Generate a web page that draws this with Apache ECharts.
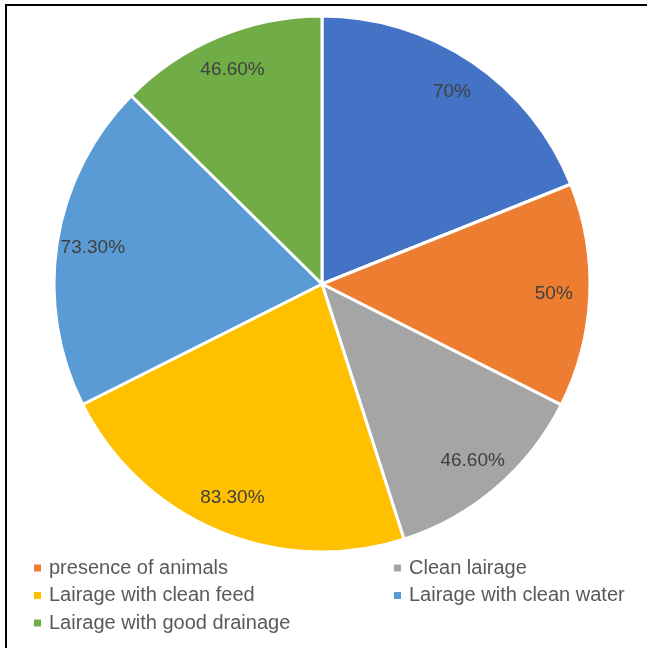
<!DOCTYPE html>
<html>
<head>
<meta charset="utf-8">
<script src="https://cdn.jsdelivr.net/npm/echarts@6/dist/echarts.min.js"></script>
<style>html,body{margin:0;padding:0;background:#fff}#c{width:647px;height:648px}</style>
</head>
<body>
<div id="c"></div>
<script>
const categories = ["Lairage available", "presence of animals", "Clean lairage", "Lairage with clean feed", "Lairage with clean water", "Lairage with good drainage"];
const values = [70, 50, 46.6, 83.3, 73.3, 46.6];
const valueLabels = ["70%", "50%", "46.60%", "83.30%", "73.30%", "46.60%"];
const colors = ["#4472C4", "#ED7D31", "#A5A5A5", "#FFC000", "#5B9BD5", "#70AD47"];
const legendLeft = ["presence of animals", "Lairage with clean feed", "Lairage with good drainage"];
const legendRight = ["Clean lairage", "Lairage with clean water"];

const data = categories.map((n, i) => ({ name: n, value: values[i], itemStyle: { color: colors[i] } }));
const font = "'Liberation Sans', Arial, sans-serif";
const legendCommon = {
  orient: 'vertical', padding: 0, itemWidth: 9, itemHeight: 9, itemGap: 7.5,
  icon: 'rect', selectedMode: false,
  textStyle: { fontFamily: font, fontSize: 20, color: '#595959', lineHeight: 20, padding: [0, 0, 0, 2] }
};
const chart = echarts.init(document.getElementById('c'), null, { renderer: 'canvas' });
chart.setOption({
  animation: false,
  color: colors,
  legend: [
    Object.assign({ data: legendLeft, left: 32, top: 558 }, legendCommon),
    Object.assign({ data: legendRight, left: 392, top: 558 }, legendCommon)
  ],
  graphic: [{
    type: 'rect', shape: { x: 6, y: 5, width: 700, height: 700 },
    style: { fill: 'none', stroke: '#000', lineWidth: 2 }, silent: true, z: 100
  }],
  series: [{
    type: 'pie', center: [322, 284], radius: [0, 268], startAngle: 90, clockwise: true,
    data: data, label: { show: false }, labelLine: { show: false },
    itemStyle: { borderColor: '#fff', borderWidth: 3 },
    emphasis: { disabled: true }, silent: true
  }, {
    type: 'pie', center: [322, 284], radius: [214, 244], startAngle: 90, clockwise: true,
    data: categories.map((n, i) => ({ name: n, value: values[i] })),
    itemStyle: { color: 'rgba(0,0,0,0)', borderWidth: 0 },
    label: { show: true, position: 'inside', fontFamily: font, fontSize: 19, color: '#404040',
      formatter: p => valueLabels[p.dataIndex] },
    labelLine: { show: false }, emphasis: { disabled: true }, silent: true
  }]
});
</script>
</body>
</html>
